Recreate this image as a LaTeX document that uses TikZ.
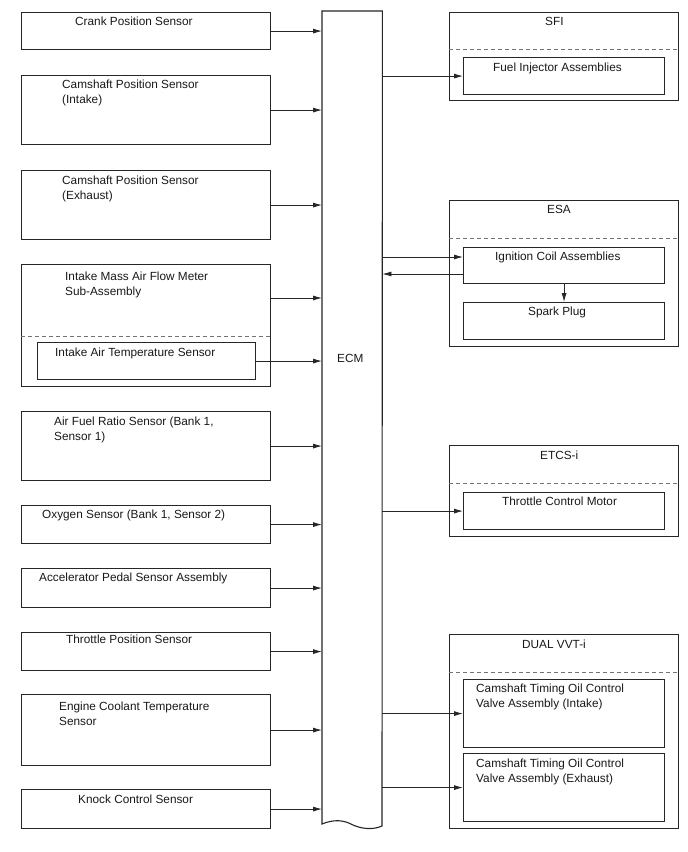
\documentclass[tikz,border=0pt]{standalone}
\usepackage{fontspec}
\setmainfont{Liberation Sans}
\usetikzlibrary{arrows.meta}
\begin{document}
\begin{tikzpicture}[x=1pt,y=-1pt,
  box/.style={draw=black!85, line width=1.1pt, rectangle, inner sep=0pt, anchor=north west},
  lbl/.style={inner sep=0pt, anchor=north west, align=left, font=\fontsize{11.8}{15}\selectfont, text=black!90},
  arr/.style={draw=black!85, line width=0.8pt, -{Latex[length=9pt,width=5pt]}},
  dsh/.style={draw=black!55, line width=0.9pt, dash pattern=on 4pt off 3pt}]
\fill[white] (0,0) rectangle (688,852);
\useasboundingbox (0,0) rectangle (688,852);

% left boxes
\node[box, minimum width=249pt, minimum height=37pt] (crank) at (21,12) {};
\node[box, minimum width=249pt, minimum height=69pt] (camin) at (21,75) {};
\node[box, minimum width=249pt, minimum height=69pt] (camex) at (21,170) {};
\node[box, minimum width=249pt, minimum height=122pt] (maf) at (21,264) {};
\node[box, minimum width=218pt, minimum height=37pt] (iat) at (37,342) {};
\node[box, minimum width=249pt, minimum height=69pt] (afr) at (21,411) {};
\node[box, minimum width=249pt, minimum height=38pt] (otwo) at (21,505) {};
\node[box, minimum width=249pt, minimum height=39pt] (acc) at (21,568) {};
\node[box, minimum width=249pt, minimum height=38pt] (tps) at (21,632) {};
\node[box, minimum width=249pt, minimum height=71pt] (ect) at (21,694) {};
\node[box, minimum width=249pt, minimum height=39pt] (knock) at (21,789) {};
\draw[dsh] (maf.west |- 0,336) -- (maf.east |- 0,336);

% ECM
\node[inner sep=0pt, anchor=north west, minimum width=60pt, minimum height=814pt] (ecm) at (322,11) {};
\draw[draw=black!85, line width=1.1pt] (ecm.north west) -- (322,824)
  .. controls (334,819) and (344,820) .. (353,825)
  .. controls (362,829) and (373,830) .. (382,826) -- (ecm.north east) -- cycle;

% right boxes
\node[box, minimum width=229pt, minimum height=88pt] (sfi) at (449,12) {};
\node[box, minimum width=201pt, minimum height=37pt] (fi) at (463,57) {};
\draw[dsh] (sfi.west |- 0,49) -- (sfi.east |- 0,49);

\node[box, minimum width=229pt, minimum height=146pt] (esa) at (449,200) {};
\node[box, minimum width=201pt, minimum height=36pt] (ign) at (463,247) {};
\node[box, minimum width=201pt, minimum height=37pt] (spark) at (463,302) {};
\draw[dsh] (esa.west |- 0,238) -- (esa.east |- 0,238);

\node[box, minimum width=229pt, minimum height=91pt] (etcs) at (449,445) {};
\node[box, minimum width=201pt, minimum height=37pt] (tcm) at (463,492) {};
\draw[dsh] (etcs.west |- 0,483) -- (etcs.east |- 0,483);

\node[box, minimum width=229pt, minimum height=194pt] (vvt) at (449,634) {};
\node[box, minimum width=201pt, minimum height=68pt] (ocvin) at (463,679) {};
\node[box, minimum width=201pt, minimum height=68pt] (ocvex) at (463,753) {};
\draw[dsh] (vvt.west |- 0,672) -- (vvt.east |- 0,672);

% labels
\node[lbl] (tcrank) at (75,16.5) {Crank Position Sensor};
\node[lbl] (tcamin) at (62,79.5) {Camshaft Position Sensor\\(Intake)};
\node[lbl] (tcamex) at (62,175.5) {Camshaft Position Sensor\\(Exhaust)};
\node[lbl] (tmaf) at (65,271.5) {Intake Mass Air Flow Meter\\Sub-Assembly};
\node[lbl] (tiat) at (55,347.5) {Intake Air Temperature Sensor};
\node[lbl] (tafr) at (54,416.5) {Air Fuel Ratio Sensor (Bank 1,\\Sensor 1)};
\node[lbl] (totwo) at (42,509.5) {Oxygen Sensor (Bank 1, Sensor 2)};
\node[lbl] (tacc) at (39,572.5) {Accelerator Pedal Sensor Assembly};
\node[lbl] (ttps) at (66,634.5) {Throttle Position Sensor};
\node[lbl] (tect) at (59,701.5) {Engine Coolant Temperature\\Sensor};
\node[lbl] (tknock) at (78,794.5) {Knock Control Sensor};
\node[lbl] (tecm) at (337,354.5) {ECM};
\node[lbl] (tsfi) at (545,17.5) {SFI};
\node[lbl] (tfi) at (493,62.5) {Fuel Injector Assemblies};
\node[lbl] (tesa) at (547,205.5) {ESA};
\node[lbl] (tign) at (495,251.5) {Ignition Coil Assemblies};
\node[lbl] (tspark) at (528,306.5) {Spark Plug};
\node[lbl] (tetcs) at (540,450.5) {ETCS-i};
\node[lbl] (ttcm) at (502,496.5) {Throttle Control Motor};
\node[lbl] (tvvt) at (522,639.5) {DUAL VVT-i};
\node[lbl] (tocvin) at (476,683.5) {Camshaft Timing Oil Control\\Valve Assembly (Intake)};
\node[lbl] (tocvex) at (476,758.5) {Camshaft Timing Oil Control\\Valve Assembly (Exhaust)};

% connectors
\foreach \n in {crank,camin,camex,iat,afr,otwo,acc,tps,ect,knock}
  \draw[arr] (\n.east) -- (\n.east -| ecm.west);
\draw[arr] (maf.east |- 0,298) -- (ecm.west |- 0,298);
\foreach \n in {fi,tcm,ocvin,ocvex}
  \draw[arr] (\n.west -| ecm.east) -- (\n.west);
\draw[arr] (ecm.east |- 0,257) -- (ign.west |- 0,257);
\draw[arr] (ign.west |- 0,274) -- (ecm.east |- 0,274);
\draw[arr] (ign.south) -- (spark.north);
\end{tikzpicture}
\end{document}
